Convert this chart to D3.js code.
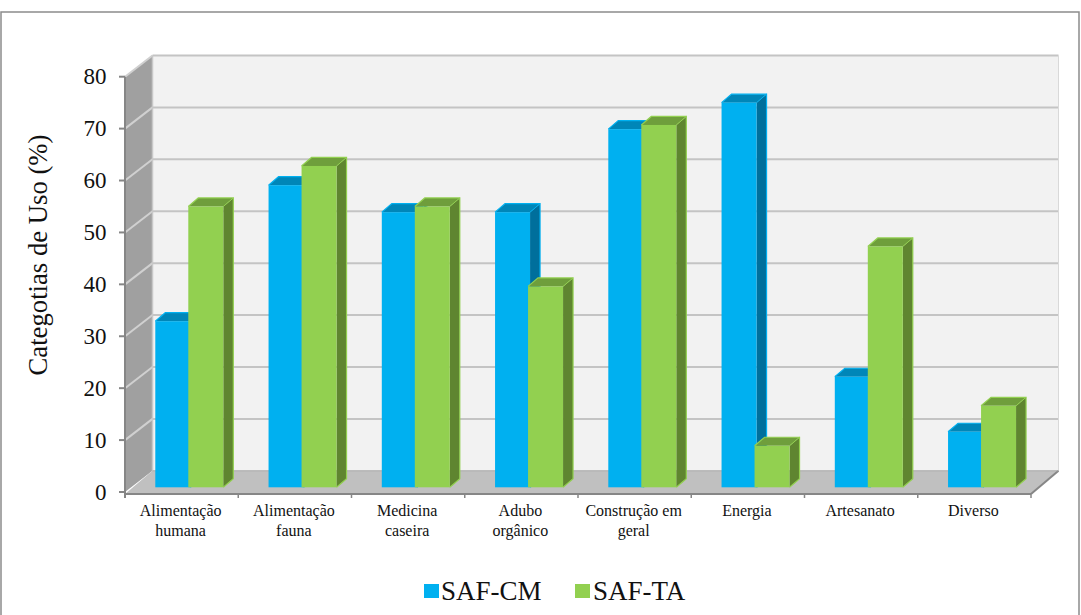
<!DOCTYPE html>
<html><head><meta charset="utf-8">
<script src="https://cdn.jsdelivr.net/npm/d3@7/dist/d3.min.js"></script>
<style>html,body{margin:0;padding:0;background:#fff}svg{display:block}text{font-family:"Liberation Serif",serif;fill:#111}</style>
</head><body><svg id="c" width="1081" height="615"></svg>
<script>
const categories=[["Alimentação","humana"],["Alimentação","fauna"],["Medicina","caseira"],["Adubo","orgânico"],["Construção em","geral"],["Energia"],["Artesanato"],["Diverso"]];
const safCM=[32,58.2,53,53,69,74.1,21.3,10.7];
const safTA=[54.1,61.9,54.1,38.7,69.8,8,46.4,15.7];
const yTicks=[0,10,20,30,40,50,60,70,80];
const seriesNames=["SAF-CM","SAF-TA"];
const colors={cm:{front:"#00b0f0",top:"#0086b8",side:"#006f9c",edge:"#00b0f0"},ta:{front:"#92d050",top:"#6f9e3c",side:"#5f8530",edge:"#92d050"}};

const svg=d3.select("#c");
svg.append("path").attr("d","M1,615V12H1079V615").attr("fill","none").attr("stroke","#8c8c8c").attr("stroke-width",1.5);

const x0=125,x1=1031,yB=492,yT=76.7,dx=27.5,dy=-21.2,axisY=494;
const x=d3.scaleBand().domain(d3.range(categories.length)).range([x0,x1]);
const y=d3.scaleLinear().domain([0,80]).range([yB,yT]);
const poly=(g,pts,fill)=>g.append("polygon").attr("points",pts.map(p=>p.join(",")).join(" ")).attr("fill",fill);

const wall=svg.append("g");
poly(wall,[[x0+dx,y(80)+dy],[x1+dx,y(80)+dy],[x1+dx,y(0)+dy],[x0+dx,y(0)+dy]],"#f2f2f2");
poly(wall,[[x0,y(80)],[x0+dx,y(80)+dy],[x0+dx,y(0)+dy],[x0,y(0)]],"#a0a0a0");
poly(wall,[[x0,axisY],[x0+dx,y(0)+dy],[x1+dx,y(0)+dy],[x1,axisY]],"#c0c0c0");
yTicks.forEach(t=>{
  if(t>0){
    wall.append("line").attr("x1",x0+dx).attr("x2",x1+dx).attr("y1",y(t)+dy).attr("y2",y(t)+dy).attr("stroke","#c4c4c4").attr("stroke-width",2);
    wall.append("line").attr("x1",x0).attr("x2",x0+dx).attr("y1",y(t)).attr("y2",y(t)+dy).attr("stroke","#d0d0d0").attr("stroke-width",2);
  }
});
wall.append("line").attr("x1",x0+dx).attr("x2",x0+dx).attr("y1",y(80)+dy).attr("y2",y(0)+dy).attr("stroke","#c8c8c8").attr("stroke-width",1.5);
wall.append("line").attr("x1",x1+dx).attr("x2",x1+dx).attr("y1",y(80)+dy).attr("y2",y(0)+dy).attr("stroke","#d9d9d9").attr("stroke-width",1);
wall.append("line").attr("x1",x1).attr("x2",x1+dx).attr("y1",axisY).attr("y2",y(0)+dy).attr("stroke","#868686").attr("stroke-width",2);
wall.append("line").attr("x1",x0+dx).attr("x2",x1+dx).attr("y1",y(0)+dy).attr("y2",y(0)+dy).attr("stroke","#a8a8a8").attr("stroke-width",1);

const ax=svg.append("g").attr("stroke","#868686").attr("stroke-width",2);
ax.append("line").attr("x1",x0).attr("x2",x0).attr("y1",y(80)).attr("y2",axisY+4);
ax.append("line").attr("x1",x0).attr("x2",x1).attr("y1",axisY).attr("y2",axisY);
yTicks.forEach(t=>ax.append("line").attr("x1",x0-6).attr("x2",x0).attr("y1",y(t)).attr("y2",y(t)));
d3.range(categories.length+1).forEach(i=>{const px=i<categories.length?x(i):x1;ax.append("line").attr("x1",px).attr("x2",px).attr("y1",axisY).attr("y2",axisY+4).attr("stroke-width",1.5);});

svg.append("g").selectAll("text").data(yTicks).join("text")
  .attr("x",106.5).attr("y",d=>y(d)+7.5).attr("text-anchor","end").attr("font-size",23).text(d=>d);

const base=487.3,barW=35,step=33,barOff=30.3,bx=10,by=-8.5;
const pxu=y(0)-y(1);
function bar(g,left,w,v,c){
  const top=base-v*pxu;
  poly(g,[[left,top],[left+bx,top+by],[left+w+bx,top+by],[left+w,top]],c.top);
  poly(g,[[left+w,top],[left+w+bx,top+by],[left+w+bx,base+by],[left+w,base]],c.side);
  g.append("polyline").attr("points",[[left,top],[left+bx,top+by],[left+w+bx,top+by],[left+w+bx,base+by],[left+w,base]].map(p=>p.join(",")).join(" ")).attr("fill","none").attr("stroke",c.edge).attr("stroke-width",1.2);
  g.append("line").attr("x1",left+w).attr("y1",top).attr("x2",left+w+bx).attr("y2",top+by).attr("stroke",c.edge).attr("stroke-width",1);
  g.append("rect").attr("x",left).attr("y",top).attr("width",w).attr("height",base-top).attr("fill",c.front);
}
const bars=svg.append("g");
categories.forEach((_,i)=>{
  bar(bars,x(i)+barOff,barW,safCM[i],colors.cm);
  bar(bars,x(i)+barOff+step,barW,safTA[i],colors.ta);
});

const cl=svg.append("g");
categories.forEach((lines,i)=>{
  lines.forEach((s,j)=>cl.append("text").attr("x",x(i)+x.bandwidth()/2-1).attr("y",516+j*19.5).attr("text-anchor","middle").attr("font-size",16).text(s));
});

svg.append("text").attr("transform","translate(47,255) rotate(-90)").attr("text-anchor","middle").attr("font-size",26.7).text("Categotias de Uso (%)");

const lg=svg.append("g");
[[424,colors.cm.front,441],[575,colors.ta.front,593]].forEach((d,i)=>{
  lg.append("rect").attr("x",d[0]).attr("y",584).attr("width",15).attr("height",14).attr("fill",d[1]);
  lg.append("text").attr("x",d[2]).attr("y",600).attr("font-size",27).text(seriesNames[i]);
});
</script></body></html>
